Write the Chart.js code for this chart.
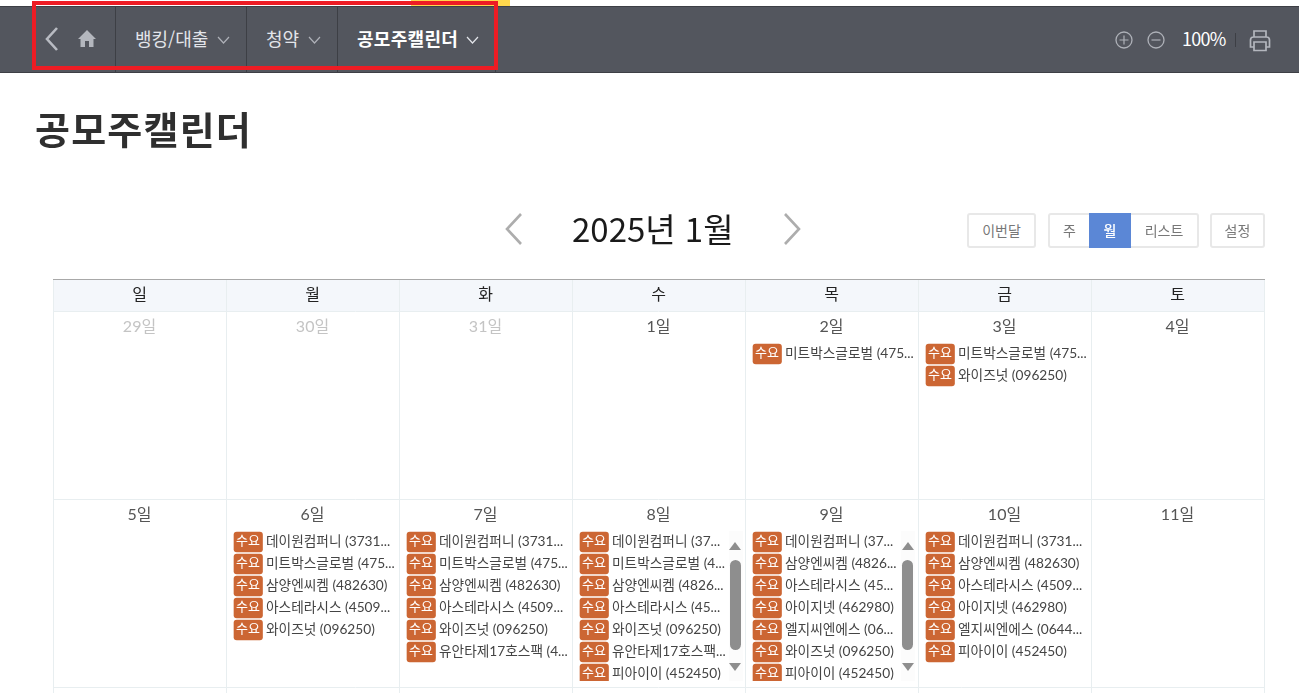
<!DOCTYPE html>
<html lang="ko">
<head>
<meta charset="utf-8">
<title>공모주캘린더</title>
<script src="https://cdn.jsdelivr.net/npm/chart.js@4"></script>
<style>
    html, body { margin: 0; padding: 0; width: 1299px; height: 693px; overflow: hidden; background: #fff; }
    body { font-family: "Noto Sans CJK KR", "Noto Sans", sans-serif; position: relative; }
    #cal { position: absolute; left: 0; top: 0; }
    .abs { position: absolute; white-space: nowrap; }
    .navbar { left: 0; top: 6px; width: 1299px; height: 67px; box-sizing: border-box; background: #53565e; border-top: 1px solid #3d3f45; border-bottom: 1px solid #3d3f45; }
    .sep { top: 6px; width: 1px; height: 66px; background: #3d3f45; }
    .navtxt { top: 24px; font-size: 18px; line-height: 28px; color: #e3e5ea; }
    .btn { top: 213px; height: 35px; box-sizing: border-box; border: 2px solid #e8e8e8; border-radius: 3px; background: #fff; color: #777; font-size: 14px; line-height: 30px; text-align: center; }
    .thumb { top: 560px; width: 11px; height: 90px; border-radius: 6px; background: #8e8e8e; }
    .track { top: 531px; width: 14px; height: 150px; background: #fcfcfc; }
    .up { top: 542px; width: 0; height: 0; border-left: 6.5px solid transparent; border-right: 6.5px solid transparent; border-bottom: 8px solid #8e8e8e; }
    .down { top: 663px; width: 0; height: 0; border-left: 6.5px solid transparent; border-right: 6.5px solid transparent; border-top: 8px solid #8e8e8e; }
    .cut { top: 681px; height: 5px; background: #fff; }
</style>
</head>
<body>
<canvas id="cal" width="1299" height="693"></canvas>

<!-- 상단 메뉴 -->
<div class="abs" style="left:411px;top:0;width:99px;height:6px;background:#ffd84d"></div>
<div class="abs navbar"></div>
<div class="abs sep" style="left:115px"></div>
<div class="abs sep" style="left:246px"></div>
<div class="abs sep" style="left:337px"></div>
<div class="abs sep" style="left:495px"></div>
<svg class="abs" style="left:44px;top:26px" width="16" height="26"><path d="M13 2 L3 13 L13 24" fill="none" stroke="#b8bbc2" stroke-width="2.6"/></svg>
<svg class="abs" style="left:77px;top:29px" width="20" height="20"><path d="M10 1 L19 10 L16.5 10 L16.5 18 L12 18 L12 12 L8 12 L8 18 L3.5 18 L3.5 10 L1 10 Z" fill="#b4b7be"/></svg>
<div class="abs navtxt" style="left:135px">뱅킹/대출</div>
<svg class="abs" style="left:217px;top:36px" width="13" height="9"><path d="M1 1 L6.5 7 L12 1" fill="none" stroke="#aeb1b8" stroke-width="1.2"/></svg>
<div class="abs navtxt" style="left:266px">청약</div>
<svg class="abs" style="left:308px;top:36px" width="13" height="9"><path d="M1 1 L6.5 7 L12 1" fill="none" stroke="#aeb1b8" stroke-width="1.2"/></svg>
<div class="abs navtxt" style="left:357px;color:#fff;font-weight:700;letter-spacing:0.3px">공모주캘린더</div>
<svg class="abs" style="left:466px;top:36px" width="13" height="9"><path d="M1 1 L6.5 7 L12 1" fill="none" stroke="#e3e5ea" stroke-width="1.2"/></svg>
<div class="abs" style="left:32px;top:1px;width:466px;height:69px;box-sizing:border-box;border:4px solid #ed1c24"></div>

<svg class="abs" style="left:1114px;top:30px" width="20" height="20"><circle cx="10" cy="10" r="8" fill="none" stroke="#aeb1b8" stroke-width="1.3"/><path d="M5.5 10 H14.5 M10 5.5 V14.5" stroke="#aeb1b8" stroke-width="1.2"/></svg>
<svg class="abs" style="left:1146px;top:30px" width="20" height="20"><circle cx="10" cy="10" r="8" fill="none" stroke="#aeb1b8" stroke-width="1.3"/><path d="M5.5 10 H14.5" stroke="#aeb1b8" stroke-width="1.2"/></svg>
<div class="abs navtxt" style="left:1182px;color:#fff;letter-spacing:-0.7px">100%</div>
<div class="abs" style="left:1235px;top:33px;width:1px;height:14px;background:#3d3f45"></div>
<svg class="abs" style="left:1248px;top:29px" width="24" height="23"><path d="M6 8 V2 H18 V8 M6 18 H2.5 V11 Q2.5 8 5.5 8 H18.5 Q21.5 8 21.5 11 V18 H18 M6 13 H18 V21.5 H6 Z" fill="none" stroke="#b4b7be" stroke-width="1.7"/></svg>

<!-- 제목 -->
<div class="abs" style="left:35px;top:100px;font-size:38px;line-height:56px;font-weight:700;color:#2f2f2f;letter-spacing:1.2px">공모주캘린더</div>
<svg class="abs" style="left:503px;top:212px" width="22" height="34"><path d="M18 2 L4 17 L18 32" fill="none" stroke="#adadad" stroke-width="2.6"/></svg>
<div class="abs" style="left:572px;top:205px;font-size:33px;line-height:46px;color:#1a1a1a">2025년 1월</div>
<svg class="abs" style="left:781px;top:212px" width="22" height="34"><path d="M4 2 L18 17 L4 32" fill="none" stroke="#adadad" stroke-width="2.6"/></svg>

<div class="abs btn" style="left:967px;width:69px">이번달</div>
<div class="abs btn" style="left:1048px;width:151px"></div>
<div class="abs btn" style="left:1050px;width:39px;border:0;height:31px;top:215px">주</div>
<div class="abs btn" style="left:1089px;width:42px;border:0;border-radius:0;background:#5b87d6;color:#fff;font-weight:500;line-height:34px">월</div>
<div class="abs btn" style="left:1133px;width:62px;border:0;height:31px;top:215px">리스트</div>
<div class="abs btn" style="left:1210px;width:55px">설정</div>
<div class="abs" style="left:53px;top:279px;width:1212px;height:1px;background:#a8a8a8"></div>

<!-- 셀 스크롤바 -->
<div class="abs cut" style="left:575px;width:168px"></div>
<div class="abs cut" style="left:748px;width:168px"></div>
<div class="abs track" style="left:728.5px"></div>
<div class="abs up" style="left:729px"></div>
<div class="abs thumb" style="left:730px"></div>
<div class="abs down" style="left:729px"></div>
<div class="abs track" style="left:901px"></div>
<div class="abs up" style="left:901.5px"></div>
<div class="abs thumb" style="left:902px"></div>
<div class="abs down" style="left:901.5px"></div>

<script>
const weekdays = ['일', '월', '화', '수', '목', '금', '토'];
const week1Days = ['29일', '30일', '31일', '1일', '2일', '3일', '4일'];
const week2Days = ['5일', '6일', '7일', '8일', '9일', '10일', '11일'];
const week1Muted = [true, true, true, false, false, false, false];
const badgeLabel = '수요';

const week1Events = [
    [],
    [],
    [],
    [],
    ['미트박스글로벌 (475...'],
    ['미트박스글로벌 (475...', '와이즈넛 (096250)'],
    []
];
const week2Events = [
    [],
    ['데이원컴퍼니 (3731...', '미트박스글로벌 (475...', '삼양엔씨켐 (482630)', '아스테라시스 (4509...', '와이즈넛 (096250)'],
    ['데이원컴퍼니 (3731...', '미트박스글로벌 (475...', '삼양엔씨켐 (482630)', '아스테라시스 (4509...', '와이즈넛 (096250)', '유안타제17호스팩 (4...'],
    ['데이원컴퍼니 (37...', '미트박스글로벌 (4...', '삼양엔씨켐 (4826...', '아스테라시스 (45...', '와이즈넛 (096250)', '유안타제17호스팩...', '피아이이 (452450)'],
    ['데이원컴퍼니 (37...', '삼양엔씨켐 (4826...', '아스테라시스 (45...', '아이지넷 (462980)', '엘지씨엔에스 (06...', '와이즈넛 (096250)', '피아이이 (452450)'],
    ['데이원컴퍼니 (3731...', '삼양엔씨켐 (482630)', '아스테라시스 (4509...', '아이지넷 (462980)', '엘지씨엔에스 (0644...', '피아이이 (452450)'],
    []
];

// y축 단위는 일정 한 줄(22px), x축 단위는 하루 한 칸
const weekSlots = 188 / 22;
const firstSlot = 43 / 22;
const weeks = [
    { start: 0, days: week1Days, events: week1Events, muted: week1Muted },
    { start: weekSlots, days: week2Days, events: week2Events, muted: [] }
];

function slotsOf(week) {
    let rows = [];
    week.events.forEach(function (list, col) {
        list.forEach(function (name, i) {
            rows.push({ col: col, name: name, y: week.start + firstSlot + i });
        });
    });
    return rows;
}

const allRows = weeks.map(slotsOf).flat();

const calendarText = {
    id: 'calendarText',
    beforeDraw(chart) {
        const c = chart.ctx, x = chart.scales.x;
        c.save();
        c.fillStyle = '#f4f7fb';
        c.fillRect(x.left, x.top, x.width, x.height);
        c.restore();
    },
    afterDatasetsDraw(chart) {
        const c = chart.ctx, x = chart.scales.x, xBar = chart.scales.xBar, y = chart.scales.y;
        c.save();
        c.textBaseline = 'middle';
        c.textAlign = 'center';
        c.font = '16px Lato, "Noto Sans CJK KR"';
        weeks.forEach(function (week) {
            week.days.forEach(function (day, col) {
                c.fillStyle = week.muted[col] ? '#c4c4c4' : '#555';
                c.fillText(day, x.getPixelForValue(col), y.getPixelForValue(week.start + 15.5 / 22));
            });
        });
        c.font = '13px "Noto Sans CJK KR"';
        c.fillStyle = '#fff';
        allRows.forEach(function (r) {
            c.fillText(badgeLabel, xBar.getPixelForValue(r.col + 22 / 173), y.getPixelForValue(r.y - 2 / 22));
        });
        c.textAlign = 'left';
        c.font = '13.7px Lato, "Noto Sans CJK KR"';
        c.fillStyle = '#444';
        allRows.forEach(function (r) {
            c.fillText(r.name, xBar.getPixelForValue(r.col + 40 / 173), y.getPixelForValue(r.y));
        });
        c.restore();
    }
};

new Chart(document.getElementById('cal'), {
    type: 'bar',
    data: {
        labels: weekdays,
        datasets: [{
            label: badgeLabel,
            xAxisID: 'xBar',
            data: allRows.map(function (r) { return { x: [r.col + 8 / 173, r.col + 36.5 / 173], y: r.y }; }),
            backgroundColor: '#cc6633',
            borderRadius: 3,
            borderSkipped: false,
            barThickness: 20
        }]
    },
    options: {
        indexAxis: 'y',
        responsive: false,
        animation: false,
        layout: { padding: { left: 53, right: 35, top: 280, bottom: 0 } },
        plugins: { legend: { display: false }, tooltip: { enabled: false } },
        scales: {
            x: {
                type: 'category',
                labels: weekdays,
                position: 'top',
                offset: true,
                grid: { offset: true, color: '#e8eef0', tickLength: 31 },
                border: { display: false },
                ticks: { color: '#222', font: { size: 16, family: '"Noto Sans CJK KR"' }, padding: -24, maxRotation: 0, autoSkip: false },
                afterFit(scale) { scale.height = 31; }
            },
            xBar: { type: 'linear', display: false, min: 0, max: 7 },
            y: {
                type: 'linear',
                reverse: true,
                offset: false,
                min: 0,
                max: 382 / 22,
                afterBuildTicks(scale) {
                    scale.ticks = [{ value: 0 }, { value: weekSlots }, { value: weekSlots * 2 }];
                },
                grid: { offset: false, color: '#e8eef0', drawTicks: false },
                border: { display: false },
                ticks: { display: false }
            }
        }
    },
    plugins: [calendarText]
});
</script>
</body>
</html>
